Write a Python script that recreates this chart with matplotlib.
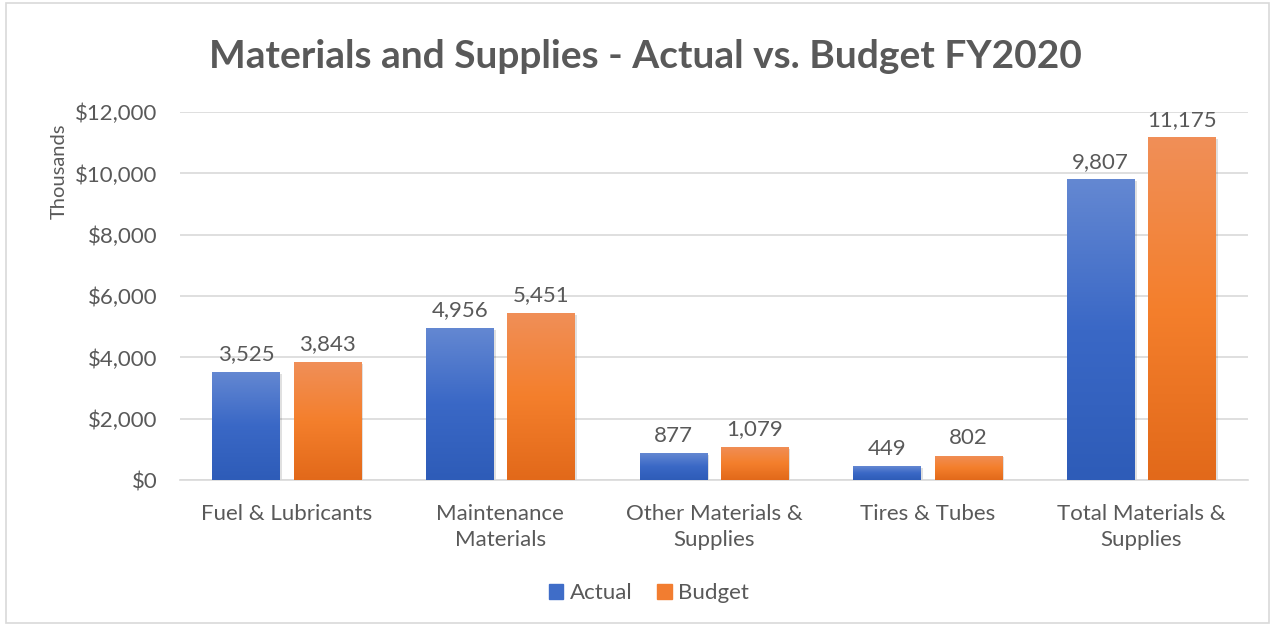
import numpy as np
import matplotlib.pyplot as plt
from matplotlib.colors import LinearSegmentedColormap
from matplotlib.patches import Rectangle

plt.rcParams['font.family'] = ['Lato', 'DejaVu Sans']

categories = ["Fuel & Lubricants", "Maintenance\nMaterials", "Other Materials &\nSupplies",
              "Tires & Tubes", "Total Materials &\nSupplies"]
actual = [3525, 4956, 877, 449, 9807]
budget = [3843, 5451, 1079, 802, 11175]

text_color = "#595959"
blue_cmap = LinearSegmentedColormap.from_list("b", ["#2e5cb8", "#3a68c6", "#6488d2"])
orange_cmap = LinearSegmentedColormap.from_list("o", ["#e2691a", "#f47f2c", "#f08f58"])

fig = plt.figure(figsize=(12.75, 6.26), dpi=100)
ax = fig.add_axes([0.141, 0.233, 0.838, 0.588])

x = np.arange(len(categories))
w = 0.315
off = 0.19

grad = np.linspace(0, 1, 256).reshape(-1, 1)

def draw_bars(vals, pos, cmap):
    bars = ax.bar(pos, vals, width=w, color="none", edgecolor="none", zorder=3)
    for b, v in zip(bars, vals):
        x0, wd, h = b.get_x(), b.get_width(), b.get_height()
        # shadow
        sh = Rectangle((x0 + 0.01, -60), wd, h, facecolor="#000000", alpha=0.12,
                       edgecolor="none", zorder=2)
        ax.add_patch(sh)
        im = ax.imshow(grad, cmap=cmap, aspect="auto", origin="lower",
                       extent=(x0, x0 + wd, 0, h), zorder=3)
        im.set_clip_path(b)
        ax.text(x0 + wd / 2, h + 250, f"{v:,}", ha="center", va="bottom",
                fontsize=16, color=text_color, zorder=4)
    return bars

draw_bars(actual, x - off, blue_cmap)
draw_bars(budget, x + off, orange_cmap)

ax.set_xlim(-0.5, len(categories) - 0.5)
ax.set_ylim(0, 12000)
ax.set_yticks(np.arange(0, 12001, 2000))
ax.set_yticklabels([f"${v:,}" for v in range(0, 12001, 2000)])
ax.set_xticks(x)
ax.set_xticklabels(categories, linespacing=1.4)
ax.tick_params(axis="both", length=0, labelsize=16, colors=text_color)
ax.tick_params(axis="y", pad=16)
ax.tick_params(axis="x", pad=17)
ax.grid(axis="y", color="#d9d9d9", linewidth=1.2, zorder=0)
ax.set_axisbelow(True)
for s in ["top", "right", "left"]:
    ax.spines[s].set_visible(False)
ax.spines["bottom"].set_color("#d9d9d9")
ax.spines["bottom"].set_linewidth(1.2)

ax.set_ylabel("Thousands", fontsize=14.5, color=text_color)
ax.yaxis.set_label_coords(-0.105, 0.84)

fig.text(0.506, 0.91, "Materials and Supplies - Actual vs. Budget FY2020", ha="center",
         va="center", fontsize=28, fontweight="bold", color=text_color)

# legend
handles = [Rectangle((0, 0), 1, 1, color="#3f6dc8"), Rectangle((0, 0), 1, 1, color="#f27d30")]
fig.legend(handles, ["Actual", "Budget"], loc="center", bbox_to_anchor=(0.509, 0.052), ncol=2,
           frameon=False, fontsize=16, labelcolor=text_color, handlelength=0.65,
           handleheight=0.65, handletextpad=0.3, columnspacing=1.1)

# outer border
fig.add_artist(Rectangle((0.005, 0.005), 0.99, 0.99, transform=fig.transFigure,
                         facecolor="none", edgecolor="#d9d9d9", linewidth=1.2))

fig.savefig("out.png", dpi=100)
